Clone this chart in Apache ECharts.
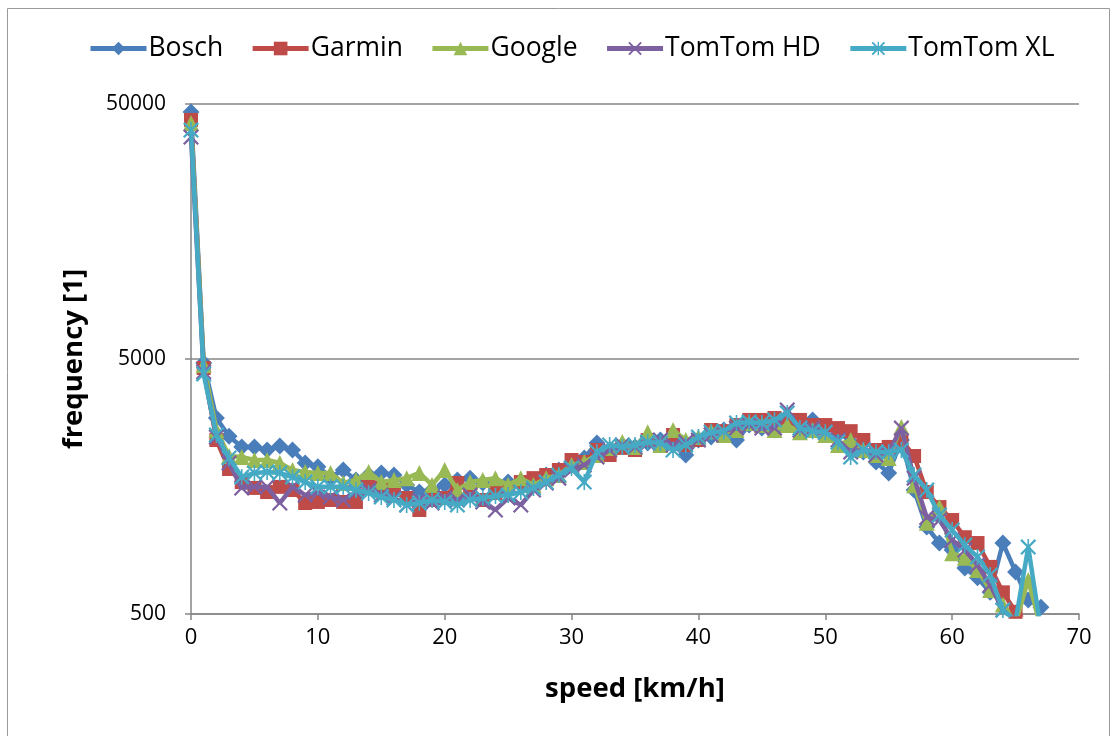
<!DOCTYPE html>
<html>
<head>
<meta charset="utf-8">
<script src="https://cdn.jsdelivr.net/npm/echarts@6/dist/echarts.min.js"></script>
<style>
  html, body { margin: 0; padding: 0; background: #fff; }
  #chart { width: 1114px; height: 736px; }
</style>
</head>
<body>
<div id="chart"></div>
<script>
// ---- data ----
const speeds = [0,1,2,3,4,5,6,7,8,9,10,11,12,13,14,15,16,17,18,19,20,21,22,23,24,25,26,27,28,29,30,31,32,33,34,35,36,37,38,39,40,41,42,43,44,45,46,47,48,49,50,51,52,53,54,55,56,57,58,59,60,61,62,63,64,65,66,67];

const bosch = [46500,4820,2935,2490,2260,2260,2198,2280,2198,1955,
  1890,1722,1835,1676,1754,1787,1754,1603,1504,1532,
  1603,1676,1705,1632,1576,1646,1603,1676,1754,1835,
  1972,2045,2342,2198,2300,2260,2342,2406,2300,2101,
  2406,2470,2633,2406,2754,2680,2633,2935,2806,2884,
  2704,2606,2363,2158,1972,1787,2406,1532,1097,949,
  891,757,693,608,949,731,567,532];

const garmin = [43300,4610,2406,1852,1646,1561,1504,1576,1532,1362,
  1375,1400,1375,1375,1603,1561,1532,1425,1279,1400,
  1425,1632,1504,1400,1491,1561,1646,1705,1754,1835,
  2009,1972,2198,2101,2240,2198,2406,2280,2517,2300,
  2406,2633,2606,2754,2884,2884,2935,2884,2884,2754,
  2754,2680,2606,2406,2198,2260,2406,2082,1504,1313,
  1168,1000,949,765,608,510,460,440];

const google = [42100,4740,2633,2083,2063,2009,2009,1955,1835,1803,
  1787,1787,1632,1676,1803,1646,1676,1705,1787,1603,
  1835,1532,1646,1676,1705,1603,1705,1603,1705,1754,
  1920,1972,2101,2240,2363,2260,2580,2300,2633,2406,
  2470,2606,2517,2633,2806,2754,2633,2754,2580,2633,
  2517,2300,2406,2198,2101,2045,2704,1600,1140,1313,
  866,830,744,621,545,460,680,440];

const tomtomHD = [37100,4450,2470,1955,1560,1576,1576,1362,1576,1464,
  1491,1437,1400,1504,1532,1464,1425,1338,1400,1362,
  1425,1400,1464,1375,1279,1425,1338,1532,1632,1705,
  1835,1920,2063,2198,2300,2260,2342,2406,2300,2363,
  2406,2517,2606,2680,2754,2680,2680,3155,2633,2680,
  2580,2406,2158,2198,2101,2158,2680,1705,1195,1168,
  975,891,778,650,518,470,450,430];

const tomtomXL = [39500,4370,2517,2045,1722,1787,1803,1787,1722,1646,
  1576,1576,1576,1532,1491,1437,1400,1338,1362,1400,
  1375,1338,1400,1425,1450,1464,1504,1561,1646,1754,
  1870,1646,2158,2300,2260,2300,2363,2342,2198,2300,
  2470,2580,2606,2806,2832,2806,2884,3070,2680,2606,
  2580,2363,2063,2198,2158,2158,2198,1754,1532,1222,
  1067,932,837,711,518,470,915,430];

const seriesNames = ['Bosch', 'Garmin', 'Google', 'TomTom HD', 'TomTom XL'];
const yTickLabels = ['500', '5000', '50000'];

// ---- styling ----
const colors = ['#4A7EBB', '#BE4B48', '#98B954', '#7D60A0', '#46AAC5'];
const X_PATH = 'path://M2,0L10,8L18,0L20,2L12,10L20,18L18,20L10,12L2,20L0,18L8,10L0,2Z';
const STAR_PATH = 'path://M2,0L10,8L18,0L20,2L12,10L20,18L18,20L10,12L2,20L0,18L8,10L0,2Z M9,0L11,0L11,20L9,20Z';
const symbols = ['diamond', 'rect', 'triangle', X_PATH, STAR_PATH];
const symbolSizes = [17, 14, 16, 16, 16];
const FONT = 'Open Sans';

const dataSets = [bosch, garmin, google, tomtomHD, tomtomXL];

const chart = echarts.init(document.getElementById('chart'), null, { renderer: 'canvas' });

const series = dataSets.map((vals, i) => ({
  name: seriesNames[i],
  type: 'line',
  xAxisIndex: 0,
  yAxisIndex: 0,
  data: speeds.map((s, k) => [s, vals[k]]),
  symbol: symbols[i],
  symbolSize: symbolSizes[i],
  showSymbol: true,
  showAllSymbol: true,
  clip: true,
  animation: false,
  lineStyle: { color: colors[i], width: 4.5 },
  itemStyle: { color: colors[i], borderWidth: 0 },
  emphasis: { disabled: true },
  z: 2 + i
}));

const option = {
  backgroundColor: '#ffffff',
  animation: false,
  color: colors,
  textStyle: { fontFamily: FONT },
  graphic: [{
    type: 'rect',
    shape: { x: 7.5, y: 8.5, width: 1102, height: 740 },
    style: { fill: 'none', stroke: '#9a9a9a', lineWidth: 1 },
    silent: true,
    z: -1
  }],
  legend: {
    data: seriesNames,
    top: 30,
    left: 83,
    itemWidth: 56,
    itemHeight: 17,
    itemGap: 27,
    lineStyle: { width: 5 },
    textStyle: { fontSize: 26.5, color: '#000', fontFamily: FONT, padding: [0, 0, 0, -3] }
  },
  grid: { left: 191, right: 35, top: 104, bottom: 122, containLabel: false },
  xAxis: [{
    type: 'value',
    min: 0,
    max: 70,
    interval: 10,
    name: 'speed [km/h]',
    nameLocation: 'middle',
    nameGap: 61,
    nameTextStyle: { fontSize: 27.5, fontWeight: 'bold', color: '#000', fontFamily: FONT },
    axisLine: { show: true, onZero: false, lineStyle: { color: '#868686', width: 1.5 } },
    axisTick: { show: true, inside: false, length: 6, lineStyle: { color: '#868686', width: 1.5 } },
    axisLabel: { fontSize: 22, color: '#000', margin: 13, fontFamily: FONT },
    splitLine: { show: false }
  }],
  yAxis: [{
    type: 'log',
    logBase: 10,
    min: 500,
    max: 50000,
    name: 'frequency [1]',
    nameLocation: 'middle',
    nameGap: 103,
    nameRotate: 90,
    nameTextStyle: { fontSize: 27.5, fontWeight: 'bold', color: '#000', fontFamily: FONT },
    axisLine: { show: true, lineStyle: { color: '#868686', width: 1.5 } },
    axisTick: { show: false },
    axisLabel: { show: false },
    splitLine: { show: false }
  }, {
    // decade axis used only for the tick marks, labels and gridlines of the log scale
    type: 'value',
    min: 0,
    max: 2,
    interval: 1,
    position: 'left',
    axisLine: { show: false },
    axisTick: { show: true, inside: false, length: 6, lineStyle: { color: '#868686', width: 1.5 } },
    axisLabel: {
      fontSize: 21, color: '#000', margin: 25, fontFamily: FONT,
      formatter: (v) => yTickLabels[Math.round(v)]
    },
    splitLine: { show: true, lineStyle: { color: '#868686', width: 1.5 } }
  }],
  series: series
};

chart.setOption(option);
</script>
</body>
</html>
